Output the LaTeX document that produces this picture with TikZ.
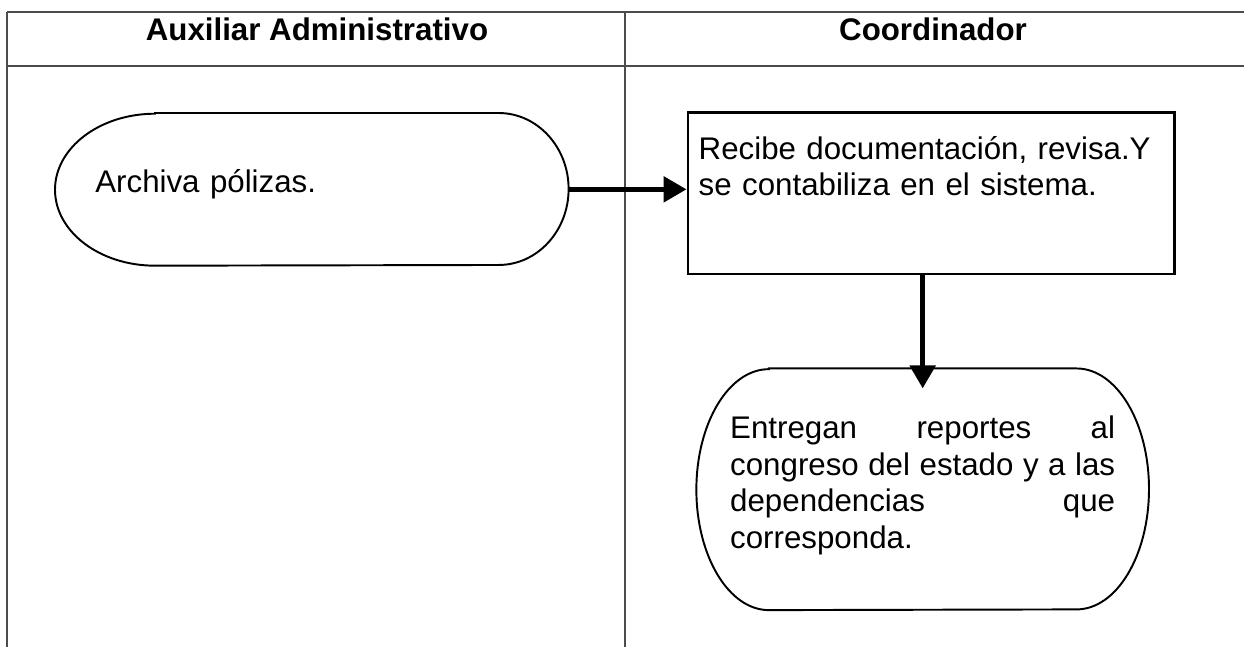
\documentclass[tikz,border=0pt]{standalone}
\usepackage{fontspec}
\setmainfont{Liberation Sans}
\usetikzlibrary{arrows.meta,positioning}

\tikzset{
  lane line/.style={line width=0.7pt, black!70},
  lane head/.style={font=\bfseries\fontsize{17.8}{20}\selectfont, anchor=base, inner sep=0pt},
  step text/.style={font=\fontsize{17.8}{20.8}\selectfont, align=left, inner ysep=0pt},
  procbox/.style={step text, draw, line width=1.3pt},
  flow/.style={line width=3pt, -{Triangle[length=0.46cm,width=0.5cm]}},
}
% outline of a terminal: node, left radius, right radius, half height
\newcommand\terminalshape[4]{%
  \draw[line width=1.1pt] ([xshift=#2]#1.north west) -- ([xshift=-#3]#1.north east)
    arc[start angle=90, end angle=-90, x radius=#3, y radius=#4]
    -- ([xshift=#2]#1.south west)
    arc[start angle=270, end angle=90, x radius=#2, y radius=#4] -- cycle;}

\begin{document}
\begin{tikzpicture}[x=0.02cm, y=-0.02cm]
\useasboundingbox (0,0) rectangle (1244,647);

% lanes
\draw[lane line] (7,12) -- (1244,12);
\draw[lane line] (7,66) -- (1244,66);
\draw[lane line] (7,12) -- (7,647);
\draw[lane line] (625,12) -- (625,647);
\node[lane head] (auxhead) at (317,40) {Auxiliar Administrativo};
\node[lane head] (coordhead) at (933,40) {Coordinador};

% steps
\node[step text, text width=8.66cm, inner xsep=0.8cm, text height=1.58cm, text depth=1.46cm,
      anchor=north west] (arch) at (55,113) {Archiva pólizas.};
\node[procbox, text width=9.3cm, inner xsep=0.22cm, text height=0.94cm, text depth=2.30cm,
      right=2.36cm of arch, yshift=-0.08cm] (proc)
      {Recibe documentación, revisa.Y\\ se contabiliza en el sistema.};
\node[step text, align=justify, text width=7.7cm, inner xsep=0.67cm, text height=1.4cm, text depth=3.42cm,
      below=1.86cm of proc, xshift=-0.17cm] (fin)
      {Entregan reportes al\linebreak congreso del estado y a las\linebreak dependencias que\linebreak corresponda.};

\terminalshape{arch}{2.0cm}{1.4cm}{1.52cm}
\terminalshape{fin}{1.45cm}{1.45cm}{2.41cm}

% connectors
\draw[flow] (arch.east) -- (arch.east -| proc.west);
\draw[flow, shorten >=-0.4cm] (fin.north |- proc.south) -- (fin.north);

\end{tikzpicture}
\end{document}
